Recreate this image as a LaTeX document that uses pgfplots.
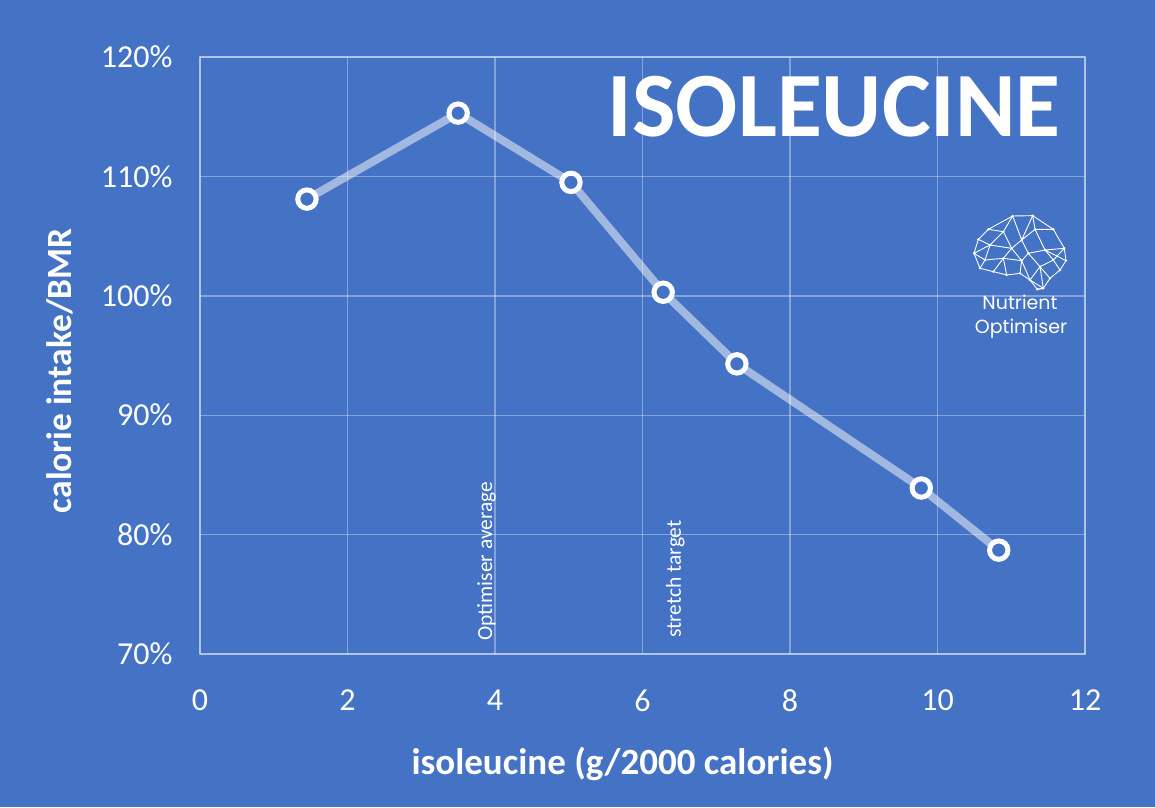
\documentclass[border=0pt]{standalone}
\usepackage{pgfplots}
\pgfplotsset{compat=1.18}
\usepackage{fontspec}
\setmainfont{Carlito}
\newfontfamily\logofont{Poppins}
\definecolor{bgblue}{RGB}{68,114,196}
\begin{document}
\begin{tikzpicture}[x=1pt,y=1pt]
\fill[bgblue] (0,0) rectangle (1155,807);
\begin{axis}[
  at={(200pt,153pt)}, anchor=south west,
  scale only axis, width=885pt, height=597pt,
  xmin=0, xmax=12, ymin=70, ymax=120,
  xtick={0,2,...,12}, ytick={70,80,...,120},
  major tick length=0pt,
  grid=major,
  grid style={draw=white, draw opacity=0.35, line width=1.4pt},
  axis line style={draw=white, draw opacity=0.35, line width=1.4pt},
  /pgf/number format/assume math mode=true,
  ticklabel style={font=\fontsize{32}{38}\selectfont, text=white},
  yticklabel={\pgfmathprintnumber{\tick}\%},
  yticklabel style={anchor=east, xshift=-24pt},
  xticklabel style={anchor=north, yshift=-32pt},
  clip=false,
]
\addplot[draw=white, draw opacity=0.5, line width=8pt, line join=round, no markers]
  coordinates {(1.45,108.1) (3.50,115.3) (5.03,109.5) (6.28,100.3) (7.28,94.3) (9.78,83.9) (10.83,78.7)};
\addplot[only marks, mark=*, mark size=9.2pt, mark options={draw=white, fill=bgblue, line width=5pt}]
  coordinates {(1.45,108.1) (3.50,115.3) (5.03,109.5) (6.28,100.3) (7.28,94.3) (9.78,83.9) (10.83,78.7)};
\node[anchor=base, text=white, font=\fontsize{92}{100}\selectfont\bfseries, inner sep=0pt] at (axis cs:8.6,113.38) {ISOLEUCINE};
\node[anchor=base west, rotate=90, text=white, font=\fontsize{21.5}{25}\selectfont, inner sep=0pt] at (axis cs:3.96,71.09) {Optimiser average};
\node[anchor=base west, rotate=90, text=white, font=\fontsize{21.5}{25}\selectfont, inner sep=0pt] at (axis cs:6.52,71.34) {stretch target};
\end{axis}
\node[anchor=base, text=white, font=\fontsize{37}{44}\selectfont\bfseries, inner sep=0pt] at (622.5pt,33pt) {isoleucine (g/2000 calories)};
\node[anchor=base, rotate=90, text=white, font=\fontsize{35.5}{44}\selectfont\bfseries, inner sep=0pt] at (71pt,436pt) {calorie intake/BMR};
% logo
\begin{scope}[shift={(940pt,607pt)}, x=0.3333pt, y=-0.3333pt, draw=white, line width=0.9pt, line join=round]
\coordinate (A) at (218,48); \coordinate (B) at (278,47); \coordinate (C) at (340,88);
\coordinate (D) at (373,145); \coordinate (E) at (378,182); \coordinate (F) at (360,210);
\coordinate (G) at (330,235); \coordinate (H) at (310,265); \coordinate (I) at (292,268);
\coordinate (J) at (270,240); \coordinate (K) at (240,220); \coordinate (L) at (200,225);
\coordinate (M) at (160,215); \coordinate (N) at (120,205); \coordinate (O) at (102,160);
\coordinate (P) at (115,118); \coordinate (Q) at (145,88);
\coordinate (a) at (190,95); \coordinate (b) at (150,135); \coordinate (c) at (245,120);
\coordinate (d) at (285,88); \coordinate (e) at (315,150); \coordinate (f) at (265,160);
\coordinate (g) at (245,182); \coordinate (h) at (190,175); \coordinate (i) at (135,180);
\coordinate (j) at (300,200); \coordinate (k) at (340,180); \coordinate (l) at (215,145);
\draw (A)--(B)--(C)--(D)--(E)--(F)--(G)--(H)--(I)--(J)--(K)--(L)--(M)--(N)--(O)--(P)--(Q)--cycle;
\draw (Q)--(a)--(A) (a)--(b)--(P) (O)--(b)--(i)--(N) (i)--(h)--(M) (h)--(L)
      (a)--(l)--(b) (l)--(h) (l)--(c)--(A) (B)--(d)--(c) (C)--(d)--(e)--(D) (e)--(E)
      (e)--(k)--(F) (k)--(j)--(G) (j)--(H) (j)--(J) (e)--(f)--(c) (f)--(g)--(h)
      (g)--(K) (g)--(J) (f)--(j) (B)--(c) (l)--(g) (i)--(O) (J)--(H) (I)--(H) (D)--(k);
\foreach \p in {A,B,C,D,E,F,G,H,I,J,K,L,M,N,O,P,Q,a,b,c,d,e,f,g,h,i,j,k,l}
  \fill[white] (\p) circle (1.3pt);
\end{scope}
\node[anchor=base, text=white, font=\logofont\fontsize{19}{22}\selectfont, inner sep=0pt] at (1020pt,497pt) {Nutrient};
\node[anchor=base, text=white, font=\logofont\fontsize{19}{22}\selectfont, inner sep=0pt] at (1021pt,474pt) {Optimiser};
\end{tikzpicture}
\end{document}
